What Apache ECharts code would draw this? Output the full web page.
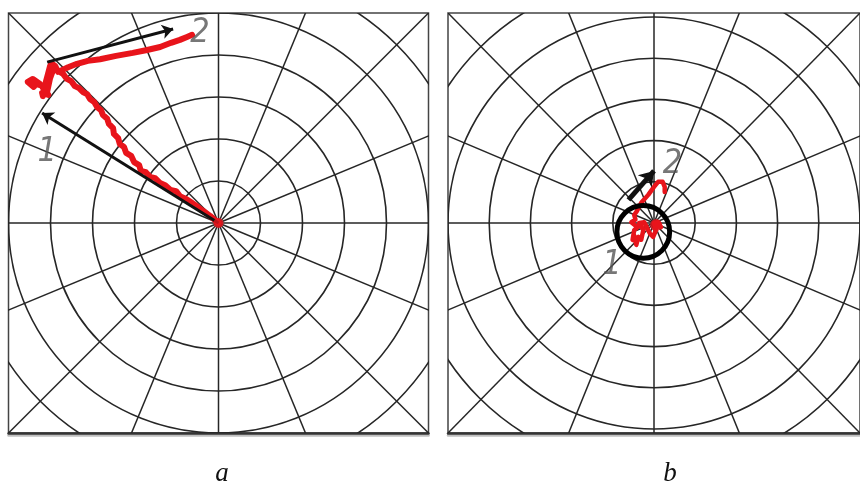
<!DOCTYPE html>
<html><head><meta charset="utf-8">
<script src="https://cdn.jsdelivr.net/npm/echarts@6/dist/echarts.min.js"></script>
<style>html,body{margin:0;padding:0;background:#fff}#c{width:860px;height:486px}</style>
</head><body><div id="c"></div>
<script>
// polar grid (in data units: one ring step = 1)
const ringRadii = [1, 2, 3, 4, 5, 6];
const spokeAngles = [0, 22.5, 45, 67.5, 90, 112.5, 135, 157.5, 180, 202.5, 225, 247.5, 270, 292.5, 315, 337.5];

// panel a
const redPathA = [[0,0],[-0.20,0.17],[-0.37,0.29],[-0.49,0.38],[-0.63,0.48],[-0.77,0.57],[-0.92,0.64],[-1.01,0.76],[-1.15,0.79],[-1.27,0.90],[-1.39,0.95],[-1.51,1.07],[-1.63,1.10],[-1.73,1.21],[-1.85,1.24],[-1.89,1.38],[-2.01,1.45],[-2.08,1.60],[-2.20,1.67],[-2.25,1.81],[-2.35,1.88],[-2.39,2.02],[-2.49,2.12],[-2.51,2.26],[-2.61,2.36],[-2.65,2.48],[-2.75,2.57],[-2.80,2.69],[-2.89,2.76],[-2.96,2.88],[-3.06,2.95],[-3.13,3.07],[-3.23,3.12],[-3.32,3.21],[-3.42,3.26],[-3.51,3.38],[-3.61,3.43],[-3.70,3.55],[-3.82,3.62],[-3.92,3.69],
  [-4.01,3.74],[-4.06,3.55],[-4.11,3.36],[-4.18,3.02],[-4.20,3.10],[-4.05,3.05],[-4.15,3.18],[-4.11,3.21],[-4.25,3.31],[-4.42,3.43],[-4.54,3.36],[-4.40,3.24],[-4.35,3.31],[-4.15,3.26],[-4.08,3.12],[-4.01,3.45],[-3.94,3.64],[-3.99,3.81],[-3.89,3.74],[-3.82,3.60],
  [-3.73,3.64],[-3.58,3.71],[-3.37,3.79],[-3.11,3.86],[-2.82,3.90],[-2.44,3.98],[-2.04,4.05],[-1.70,4.12],[-1.39,4.19],[-1.13,4.29],[-0.92,4.36],[-0.75,4.43],[-0.63,4.48]];
const arrowsA = [[[0,0],[-4.20,2.62]], [[-4.08,3.83],[-1.08,4.62]]];
const centerDotA = [[0,0]];
const labelsA = [{name:'1', value:[-4.08,1.69]}, {name:'2', value:[-0.44,4.52]}];

// panel b
const redPathB = [[0.05,-0.05],[0.17,-0.10],[0.10,0.02],[0,0],[0.05,-0.17],[-0.02,-0.33],[-0.10,-0.25],[-0.14,-0.21],[-0.20,-0.05],[-0.24,0.02],[-0.36,0.0],[-0.30,-0.10],[-0.26,-0.17],[-0.31,-0.40],[-0.38,-0.33],[-0.43,-0.52],[-0.48,-0.30],[-0.52,-0.40],[-0.48,-0.17],[-0.40,-0.10],[-0.55,0.02],[-0.45,0.08],[-0.48,0.19],
  [-0.43,0.26],[-0.31,0.48],[-0.14,0.67],[0,0.86],[0.10,0.98],[0.21,0.98],[0.26,0.86],[0.26,0.74]];
const arrowsB = [[[-0.62,0.55],[0.0,1.24]]];
const circleB = [[-0.26,-0.21,0.64]];
const centerDotB = [[0.05,-0.05]];
const labelsB = [{name:'1', value:[-1.02,-1.00]}, {name:'2', value:[0.45,1.40]}];

const panelCaptions = ['a', 'b'];

const GRID_COLOR = '#262626';
function gridSeries(idx) {
  return [
    { type:'custom', xAxisIndex:idx, yAxisIndex:idx, clip:true, silent:true, z:1,
      data: ringRadii.map(r => [r, 0]),
      renderItem: (p, api) => {
        const c = api.coord([0,0]);
        const r = api.size([api.value(0), 0])[0];
        return {type:'circle', shape:{cx:c[0], cy:c[1], r:r}, style:{fill:'none', stroke:GRID_COLOR, lineWidth:1.6}};
      }},
    { type:'custom', xAxisIndex:idx, yAxisIndex:idx, clip:true, silent:true, z:1,
      data: spokeAngles.map(a => [a, 0]),
      renderItem: (p, api) => {
        const a = api.value(0) * Math.PI / 180;
        const c = api.coord([0,0]);
        const e = api.coord([10*Math.cos(a), 10*Math.sin(a)]);
        return {type:'line', shape:{x1:c[0], y1:c[1], x2:e[0], y2:e[1]}, style:{stroke:GRID_COLOR, lineWidth:1.5}};
      }}
  ];
}
const labelStyle = {show:true, position:'inside', formatter:'{b}', fontSize:34, fontStyle:'italic',
  fontFamily:"'Liberation Sans Narrow','DejaVu Sans Condensed','Liberation Sans',sans-serif", color:'#555'};

const axisCommon = (idx) => ({gridIndex:idx, type:'value', min:-5, max:5, interval:1,
  axisLabel:{show:false}, axisTick:{show:false}, splitLine:{show:false}});

const option = {
  animation:false,
  backgroundColor:'#fff',
  grid:[
    {left:8.5, top:13, width:420, height:420, show:true, borderColor:'#444', borderWidth:1.5, backgroundColor:'#fff'},
    {left:448, top:13, width:420, height:420, show:true, borderColor:'#444', borderWidth:1.5, backgroundColor:'#fff'}
  ],
  xAxis:[0,1].map(i => Object.assign(axisCommon(i), {axisLine:{show:true, onZero:false, lineStyle:{color:'#333', width:2.5, shadowColor:'rgba(0,0,0,0.25)', shadowOffsetY:2}}})),
  yAxis:[0,1].map(i => Object.assign(axisCommon(i), {axisLine:{show:false}})),
  graphic: panelCaptions.map((t, i) => ({type:'text', x: i === 0 ? 222 : 670, y:487,
    style:{text:t, font:'italic 27px "Liberation Serif", serif', fill:'#111', textAlign:'center', textVerticalAlign:'bottom', align:'center', verticalAlign:'bottom'}})),
  series:[
    ...gridSeries(0),
    ...gridSeries(1),
    {type:'line', xAxisIndex:0, yAxisIndex:0, data:redPathA, showSymbol:false, symbol:'none', z:3,
      lineStyle:{color:'#e8141b', width:6, join:'round', cap:'round'}},
    {type:'lines', coordinateSystem:'cartesian2d', xAxisIndex:0, yAxisIndex:0, z:4,
      data: arrowsA.map(c => ({coords:c})), symbol:['none','arrow'], symbolSize:11,
      lineStyle:{color:'#111', width:3, opacity:1, curveness:0}},
    {type:'scatter', xAxisIndex:0, yAxisIndex:0, data:centerDotA, symbolSize:10, itemStyle:{color:'#e8141b'}, z:5},
    {type:'scatter', xAxisIndex:0, yAxisIndex:0, data:labelsA, symbolSize:1, itemStyle:{color:'transparent'}, label:labelStyle, z:6},

    {type:'line', xAxisIndex:1, yAxisIndex:1, data:redPathB, showSymbol:false, symbol:'none', z:3,
      lineStyle:{color:'#e8141b', width:4.5, join:'round', cap:'round'}},
    {type:'custom', xAxisIndex:1, yAxisIndex:1, data:circleB, z:4,
      renderItem: (p, api) => {
        const c = api.coord([api.value(0), api.value(1)]);
        const r = api.size([api.value(2), 0])[0];
        return {type:'circle', shape:{cx:c[0], cy:c[1], r:r}, style:{fill:'none', stroke:'#000', lineWidth:5}};
      }},
    {type:'lines', coordinateSystem:'cartesian2d', xAxisIndex:1, yAxisIndex:1, z:4,
      data: arrowsB.map(c => ({coords:c})), symbol:['none','arrow'], symbolSize:14,
      lineStyle:{color:'#111', width:5, opacity:1, curveness:0}},
    {type:'scatter', xAxisIndex:1, yAxisIndex:1, data:centerDotB, symbolSize:12, itemStyle:{color:'#e8141b'}, z:5},
    {type:'scatter', xAxisIndex:1, yAxisIndex:1, data:labelsB, symbolSize:1, itemStyle:{color:'transparent'}, label:labelStyle, z:6}
  ]
};
const chart = echarts.init(document.getElementById('c'), null, {renderer:'canvas'});
chart.setOption(option);
</script>
</body></html>
